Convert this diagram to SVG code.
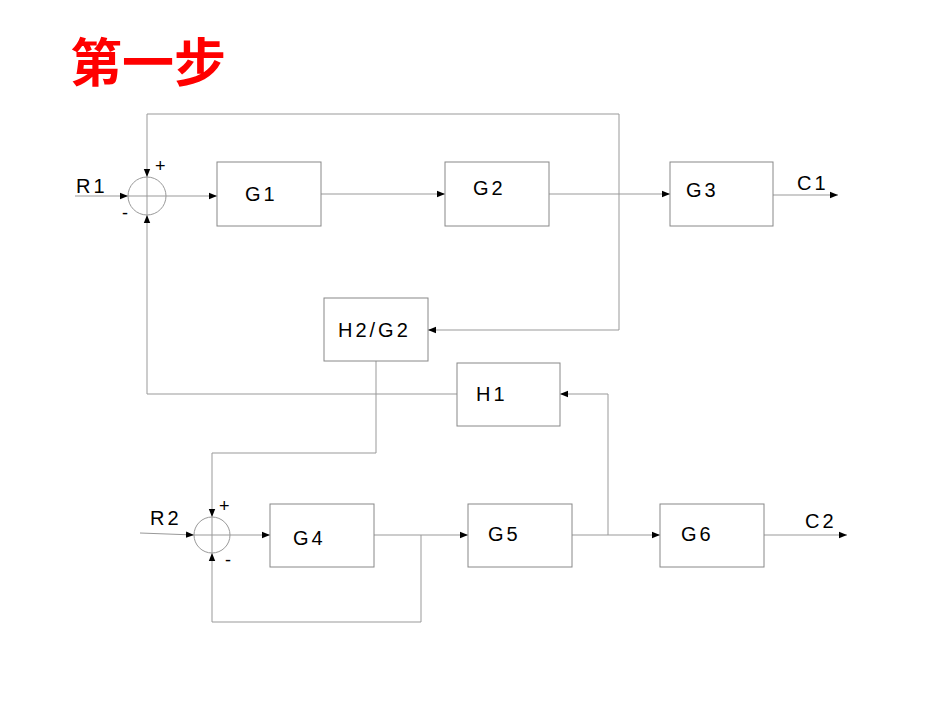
<svg xmlns="http://www.w3.org/2000/svg" width="950" height="713" viewBox="0 0 950 713">
<style>
.b{fill:#fff;stroke:#888;stroke-width:1}
.c{fill:none;stroke:#999;stroke-width:1}
.t{font-family:"Liberation Sans",Arial,sans-serif;font-size:20px;fill:#000;letter-spacing:3px}
.s{font-family:"Liberation Sans",Arial,sans-serif;font-size:18px;fill:#000}
</style>
<defs><marker id="a" viewBox="0 0 10 10" refX="10" refY="5" markerWidth="8" markerHeight="8" orient="auto" markerUnits="userSpaceOnUse"><path d="M0,1 L10,5 L0,9z" fill="#000"/></marker></defs>
<rect width="950" height="713" fill="#fff"/>
<text x="70" y="82" font-family="'Noto Sans CJK SC',sans-serif" font-size="52" font-weight="bold" fill="#f00">第一步</text>
<g id="connectors" class="c">
<path d="M75 196H128" marker-end="url(#a)"/>
<path d="M166 196H217" marker-end="url(#a)"/>
<path d="M321 194H445" marker-end="url(#a)"/>
<path d="M549 194H670" marker-end="url(#a)"/>
<path d="M773 195H838" marker-end="url(#a)"/>
<path d="M619 194V114H147V177" marker-end="url(#a)"/>
<path d="M619 194V330H428" marker-end="url(#a)"/>
<path d="M457 394H147V215" marker-end="url(#a)"/>
<path d="M376 361V453H212V517" marker-end="url(#a)"/>
<path d="M140 533L194 535" marker-end="url(#a)"/>
<path d="M230 535H270" marker-end="url(#a)"/>
<path d="M374 535H468" marker-end="url(#a)"/>
<path d="M572 535H660" marker-end="url(#a)"/>
<path d="M764 535H847" marker-end="url(#a)"/>
<path d="M608 535V394H560" marker-end="url(#a)"/>
<path d="M421 535V622H212V553" marker-end="url(#a)"/>
</g>
<g id="sum1"><circle cx="147" cy="196" r="19" class="c"/><path d="M128 196H166M147 177V215" class="c"/><text x="155" y="172" class="s">+</text><text x="122" y="219" class="s">-</text></g>
<g id="sum2"><circle cx="212" cy="535" r="18" class="c"/><path d="M194 535H230M212 517V553" class="c"/><text x="219" y="512" class="s">+</text><text x="225" y="566" class="s">-</text></g>
<g id="R1"><text x="76" y="193" class="t">R1</text></g>
<g id="R2"><text x="150" y="525" class="t">R2</text></g>
<g id="C1"><text x="797" y="190" class="t">C1</text></g>
<g id="C2"><text x="805" y="528" class="t">C2</text></g>
<g id="G1"><rect x="217" y="162" width="104" height="64" class="b"/><text x="245" y="201" class="t">G1</text></g>
<g id="G2"><rect x="445" y="162" width="104" height="64" class="b"/><text x="473" y="195" class="t">G2</text></g>
<g id="G3"><rect x="670" y="162" width="103" height="64" class="b"/><text x="686" y="197" class="t">G3</text></g>
<g id="H2G2"><rect x="324" y="298" width="104" height="63" class="b"/><text x="338" y="337" class="t">H2/G2</text></g>
<g id="H1"><rect x="457" y="363" width="103" height="63" class="b"/><text x="476" y="401" class="t">H1</text></g>
<g id="G4"><rect x="270" y="504" width="104" height="63" class="b"/><text x="293" y="545" class="t">G4</text></g>
<g id="G5"><rect x="468" y="504" width="104" height="63" class="b"/><text x="488" y="541" class="t">G5</text></g>
<g id="G6"><rect x="660" y="504" width="104" height="63" class="b"/><text x="681" y="541" class="t">G6</text></g>
</svg>
